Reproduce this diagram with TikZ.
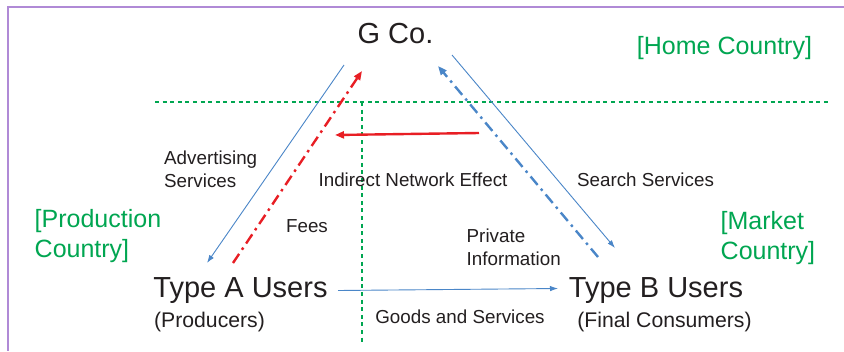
\documentclass[tikz,border=0pt]{standalone}
\usepackage{fontspec}
\setmainfont{Liberation Sans}
\usetikzlibrary{arrows.meta}

\definecolor{txt}{RGB}{35,31,32}
\definecolor{regiongreen}{RGB}{0,166,81}
\definecolor{flowblue}{RGB}{74,134,200}
\definecolor{flowred}{RGB}{232,30,36}
\definecolor{framepurple}{RGB}{176,138,214}

\tikzset{
  actor/.style={font=\fontsize{29}{32}\selectfont, text=txt, inner sep=0pt, anchor=base},
  role/.style={font=\fontsize{21.2}{24}\selectfont, text=txt, inner sep=0pt, anchor=base},
  lbl/.style={font=\fontsize{18.8}{22}\selectfont, text=txt, inner sep=0pt},
  region/.style={font=\fontsize{25}{29}\selectfont, text=regiongreen, inner sep=0pt, anchor=base west},
  border/.style={regiongreen, line width=2pt, dash pattern=on 4pt off 3.6pt},
  service/.style={flowblue, line width=0.9pt, -{Latex[length=8pt,width=5.5pt]}},
  payment/.style={line width=2.4pt, dash pattern=on 11pt off 5pt on 2.5pt off 5pt,
                  -{Triangle[length=9pt,width=7pt]}},
  effect/.style={flowred, line width=2.4pt, -{Triangle[length=9pt,width=7pt]}}
}

\begin{document}
\begin{tikzpicture}[x=1pt, y=-1pt]
  \useasboundingbox (0,0) rectangle (844,351);
  \fill[white] (0,0) rectangle (844,351);

  % page frame (top and left edges)
  \draw[framepurple, line width=2pt] (844,6.5) -- (8,6.5) -- (8,351);

  % actors
  \node[actor] (gco) at (395.5,43) {G Co.};
  \node[actor] (typeA) at (240.5,297) {Type A Users};
  \node[role] (producers) at (209.5,327) {(Producers)};
  \node[actor] (typeB) at (656,297) {Type B Users};
  \node[role] (consumers) at (664.5,327) {(Final Consumers)};

  % country regions
  \node[region, anchor=base] (home) at (724.5,54) {[Home Country]};
  \node[region] (prod1) at (34.5,227) {[Production};
  \node[region] (prod2) at (34.5,257) {Country]};
  \node[region] (mkt1) at (720.5,229) {[Market};
  \node[region] (mkt2) at (720.5,259) {Country]};

  % borders between countries
  \coordinate (bh1) at (155,101.5);
  \coordinate (bh2) at (828,101.5);
  \coordinate (bv1) at (362,102);
  \coordinate (bv2) at (362,344);
  \draw[border] (bh1) -- (bh2);
  \draw[border] (bv1) -- (bv2);

  % flow labels
  \node[lbl, anchor=base west] (adv1) at (164,164) {Advertising};
  \node[lbl, anchor=base west] (adv2) at (164,187) {Services};
  \node[lbl, anchor=base] (ine) at (413,186) {Indirect Network Effect};
  \node[lbl, anchor=base] (search) at (645.5,186) {Search Services};
  \node[lbl, anchor=base] (fees) at (307,232) {Fees};
  \node[lbl, anchor=base west] (priv1) at (466.5,242) {Private};
  \node[lbl, anchor=base west] (priv2) at (466.5,265) {Information};
  \node[lbl, anchor=base] (goods) at (460,323) {Goods and Services};

  % endpoints of the flows
  \coordinate (advS) at (344,65);
  \coordinate (advE) at (207,263);
  \coordinate (feeS) at (233,263);
  \coordinate (feeE) at (362,71);
  \coordinate (infS) at (598,257);
  \coordinate (infE) at (438,66);
  \coordinate (srcS) at (452,55);
  \coordinate (srcE) at (615,248);
  \coordinate (ineS) at (479,133);
  \coordinate (ineE) at (335,135);
  \coordinate (gdsS) at (338,290.5);
  \coordinate (gdsE) at (558,288.5);

  % flows
  \draw[service] (advS) -- (advE);
  \draw[service] (srcS) -- (srcE);
  \draw[service] (gdsS) -- (gdsE);
  \draw[payment, flowred] (feeS) -- (feeE);
  \draw[payment, flowblue] (infS) -- (infE);
  \draw[effect] (ineS) -- (ineE);
\end{tikzpicture}
\end{document}
